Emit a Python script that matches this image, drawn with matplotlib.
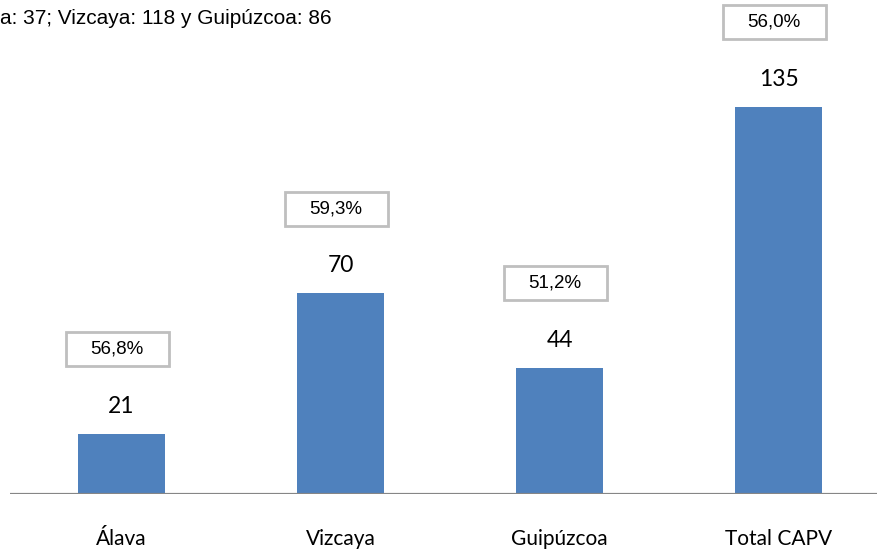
import matplotlib
matplotlib.use("Agg")
import matplotlib.pyplot as plt
from matplotlib.patches import Rectangle

categories = ["Álava", "Vizcaya", "Guipúzcoa", "Total CAPV"]
values = [21, 70, 44, 135]
pct_labels = ["56,8%", "59,3%", "51,2%", "56,0%"]
header = "a: 37; Vizcaya: 118 y Guipúzcoa: 86"

W, H = 877, 550
fig = plt.figure(figsize=(W / 100, H / 100), dpi=100)
# axes from x=10 px to 877 px, y from 494 px (baseline) to 10 px
ax = fig.add_axes([10 / W, (H - 494) / H, (W - 10) / W, 484 / H])
px_per_unit = 387 / 135
ax.set_ylim(0, 484 / px_per_unit)
spacing = 219
ax.set_xlim(-(121.5 - 10) / spacing, (877 - 121.5) / spacing)

x = list(range(len(categories)))
ax.bar(x, values, width=87 / spacing, color="#4F81BD", zorder=2)
ax.axhline(0, color="#868686", lw=2.3, zorder=3)

for xi, v, p in zip(x, values, pct_labels):
    ax.annotate(str(v), (xi, v), xytext=(0, 20), textcoords="offset points",
                ha="center", va="center", fontsize=16.5, family="Lato", color="#000000")
    bw = 103 / spacing
    bh = 34 / px_per_unit
    cy = v + 29.5
    ax.add_patch(Rectangle((xi - 0.02 - bw / 2, cy - bh / 2), bw, bh, facecolor="white",
                           edgecolor="#BFBFBF", lw=2, zorder=4, clip_on=False))
    ax.text(xi - 0.02, cy, p, ha="center", va="center", fontsize=13.5,
            family="Liberation Sans", color="#000000", zorder=5, clip_on=False)

for s in ax.spines.values():
    s.set_visible(False)
ax.set_yticks([])
ax.set_xticks(x)
ax.set_xticklabels(categories, fontsize=15, family="Lato")
ax.tick_params(axis="x", length=0, pad=25.5)

fig.text(0 / W, 1 - 19 / H, header, ha="left", va="center", fontsize=15,
         family="Liberation Sans", color="#000000")

fig.savefig("out.png", dpi=100)
